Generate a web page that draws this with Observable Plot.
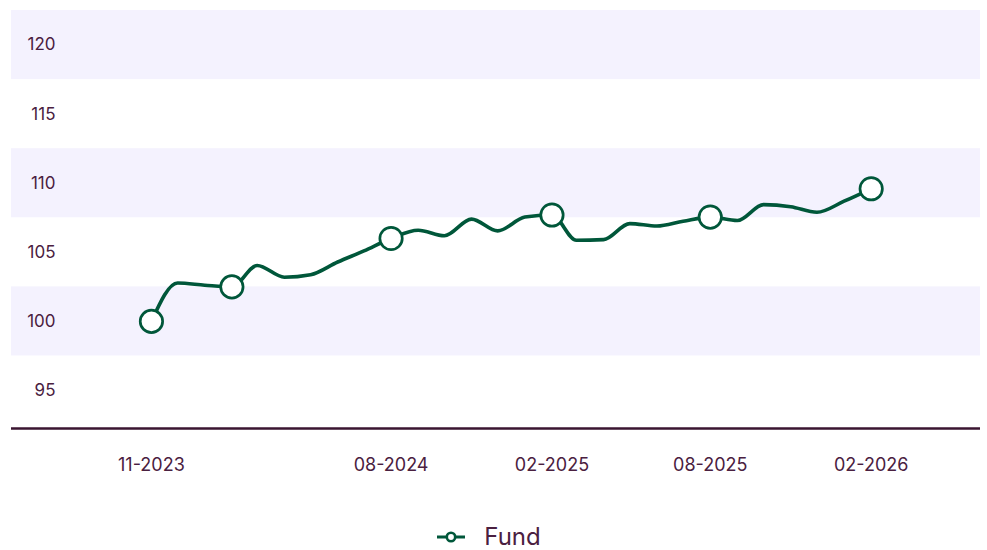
<!DOCTYPE html>
<html>
<head>
<meta charset="utf-8">
<script src="https://cdn.jsdelivr.net/npm/d3@7"></script>
<script src="https://cdn.jsdelivr.net/npm/@observablehq/plot@0.6"></script>
<style>
  html, body { margin: 0; background: #fff; font-family: Inter, "Noto Sans", sans-serif; }
  body { position: relative; width: 987px; height: 550px; overflow: hidden; }
  #legend { position: absolute; left: 0; right: 10px; top: 523px; height: 28px; display: flex; justify-content: center; align-items: center; gap: 18px; line-height: 1; color: #4a2040; font-size: 24px; }
  #chart svg text { font-variant-numeric: normal; }
</style>
</head>
<body>
<div id="chart"></div>
<div id="legend"></div>
<script>
const months = ["2023-11","2023-12","2024-01","2024-02","2024-03","2024-04","2024-05","2024-06","2024-07","2024-08","2024-09","2024-10","2024-11","2024-12","2025-01","2025-02","2025-03","2025-04","2025-05","2025-06","2025-07","2025-08","2025-09","2025-10","2025-11","2025-12","2026-01","2026-02"];
const fundValues = [100.0,102.78,102.62,102.5,104.05,103.2,103.38,104.3,105.1,106.0,106.6,106.2,107.4,106.55,107.55,107.7,105.87,105.92,107.08,106.9,107.25,107.55,107.3,108.45,108.3,107.9,108.7,109.6];
const markerMonths = ["2023-11","2024-02","2024-08","2025-02","2025-08","2026-02"];
const tickMonths = ["2023-11","2024-08","2025-02","2025-08","2026-02"];
const yTicks = [95,100,105,110,115,120];
const bandRanges = [[97.5,102.5],[107.5,112.5],[117.5,122.5]];
const seriesName = "Fund";

const green = "#00573a";
const ink = "#4a2040";
const parse = d3.utcParse("%Y-%m");
const data = months.map((m,i)=>({date: parse(m), value: fundValues[i]}));
const markers = data.filter(d => markerMonths.includes(d3.utcFormat("%Y-%m")(d.date)));
const bands = bandRanges.map(([a,b])=>({y1:a,y2:b}));

const chart = Plot.plot({
  width: 987,
  height: 500,
  marginTop: 10,
  marginBottom: 72,
  marginLeft: 11,
  marginRight: 7,
  style: {fontFamily: "Inter, 'Noto Sans', sans-serif", fontSize: "17px", color: ink, background: "#fff", fontVariant: "normal"},
  x: {type: "utc", domain: [new Date(Date.UTC(2023,4,25)), new Date(Date.UTC(2026,5,6))]},
  y: {domain: [92.25, 122.5]},
  marks: [
    Plot.rect(bands, {y1: "y1", y2: "y2", fill: "#f4f2fe"}),
    Plot.ruleY([92.25], {stroke: "#3a1530", strokeWidth: 2.5}),
    Plot.axisY(yTicks, {tickSize: 0, tickPadding: 0, dx: 44, textAnchor: "end", label: null, fontSize: 17, fill: ink}),
    Plot.axisX(tickMonths.map(parse), {tickSize: 0, tickPadding: 30, tickFormat: d3.utcFormat("%m-%Y"), label: null, fontSize: 18, fill: ink}),
    Plot.line(data, {x: "date", y: "value", stroke: green, strokeWidth: 3.6, curve: "monotone-x"}),
    Plot.dot(markers, {x: "date", y: "value", r: 11.2, fill: "#fff", stroke: green, strokeWidth: 2.7})
  ]
});
document.getElementById("chart").appendChild(chart);

document.getElementById("legend").innerHTML =
  `<svg width="30" height="14"><line x1="1" y1="7" x2="29" y2="7" stroke="${green}" stroke-width="3"/><circle cx="15" cy="7" r="4.2" fill="#fff" stroke="${green}" stroke-width="2.6"/></svg><span>${seriesName}</span>`;
</script>
</body>
</html>
